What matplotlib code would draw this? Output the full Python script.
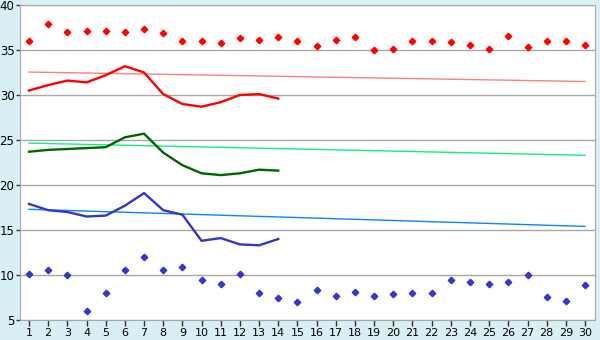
import matplotlib
matplotlib.use('Agg')
import matplotlib.pyplot as plt
import numpy as np

# Datos
dias = np.arange(1, 31)
dias_linea = np.arange(1, 15)

puntos_altos = [36.0, 37.9, 37.0, 37.1, 37.1, 37.0, 37.3, 36.85, 36.0, 36.0,
                35.8, 36.3, 36.1, 36.4, 36.0, 35.5, 36.1, 36.4, 35.0, 35.1,
                36.0, 36.0, 35.9, 35.6, 35.1, 36.6, 35.3, 36.0, 36.0, 35.6]
puntos_bajos = [10.1, 10.6, 10.0, 6.0, 8.0, 10.6, 12.0, 10.6, 10.9, 9.4,
                9.0, 10.1, 8.0, 7.4, 7.0, 8.3, 7.7, 8.1, 7.7, 7.9,
                8.0, 8.0, 9.5, 9.2, 9.0, 9.2, 10.0, 7.6, 7.1, 8.9]

linea_roja = [30.5, 31.1, 31.6, 31.4, 32.2, 33.2, 32.5, 30.1, 29.0, 28.7,
              29.2, 30.0, 30.1, 29.6]
linea_verde = [23.7, 23.9, 24.0, 24.1, 24.2, 25.3, 25.7, 23.6, 22.2, 21.3,
               21.1, 21.3, 21.7, 21.6]
linea_azul = [17.9, 17.2, 17.0, 16.5, 16.6, 17.7, 19.1, 17.2, 16.7, 13.8,
              14.1, 13.4, 13.3, 14.0]

# Tendencias (valor en día 1 y día 30)
tend_roja = [32.55, 31.5]
tend_verde = [24.65, 23.3]
tend_azul = [17.3, 15.4]

fondo = '#d9eff6'
gris = '#a8a8a8'

fig = plt.figure(figsize=(6, 3.4), dpi=100, facecolor=fondo)
ax = fig.add_axes([20 / 600, 20 / 340, 575 / 600, 315 / 340])
ax.set_facecolor('white')

# Tendencias
ax.plot([1, 30], tend_roja, color='#ff8080', linewidth=1)
ax.plot([1, 30], tend_verde, color='#10f080', linewidth=1)
ax.plot([1, 30], tend_azul, color='#0a84ff', linewidth=1)

# Curvas
ax.plot(dias_linea, linea_roja, color='#ff0000', linewidth=1.7)
ax.plot(dias_linea, linea_verde, color='#006600', linewidth=1.7)
ax.plot(dias_linea, linea_azul, color='#3636cc', linewidth=1.7)

# Puntos
ax.plot(dias, puntos_altos, 'D', color='#ff0000', markersize=3.3, linestyle='none')
ax.plot(dias, puntos_bajos, 'D', color='#3636cc', markersize=3.3, linestyle='none')

# Ejes
ax.set_xlim(0.53, 30.52)
ax.set_ylim(5, 40)
ax.set_xticks(dias)
ax.set_yticks(np.arange(5, 41, 5))
ax.yaxis.grid(True, color=gris, linewidth=1)
ax.set_axisbelow(True)
for lado in ['left', 'bottom', 'right', 'top']:
    ax.spines[lado].set_color(gris)
ax.tick_params(axis='x', length=4, width=1, color='#333333', labelsize=8, pad=2)
ax.tick_params(axis='y', length=3, width=1, color='#333333', labelsize=8.5, pad=1)

plt.savefig('out.png', dpi=100, facecolor=fondo)
